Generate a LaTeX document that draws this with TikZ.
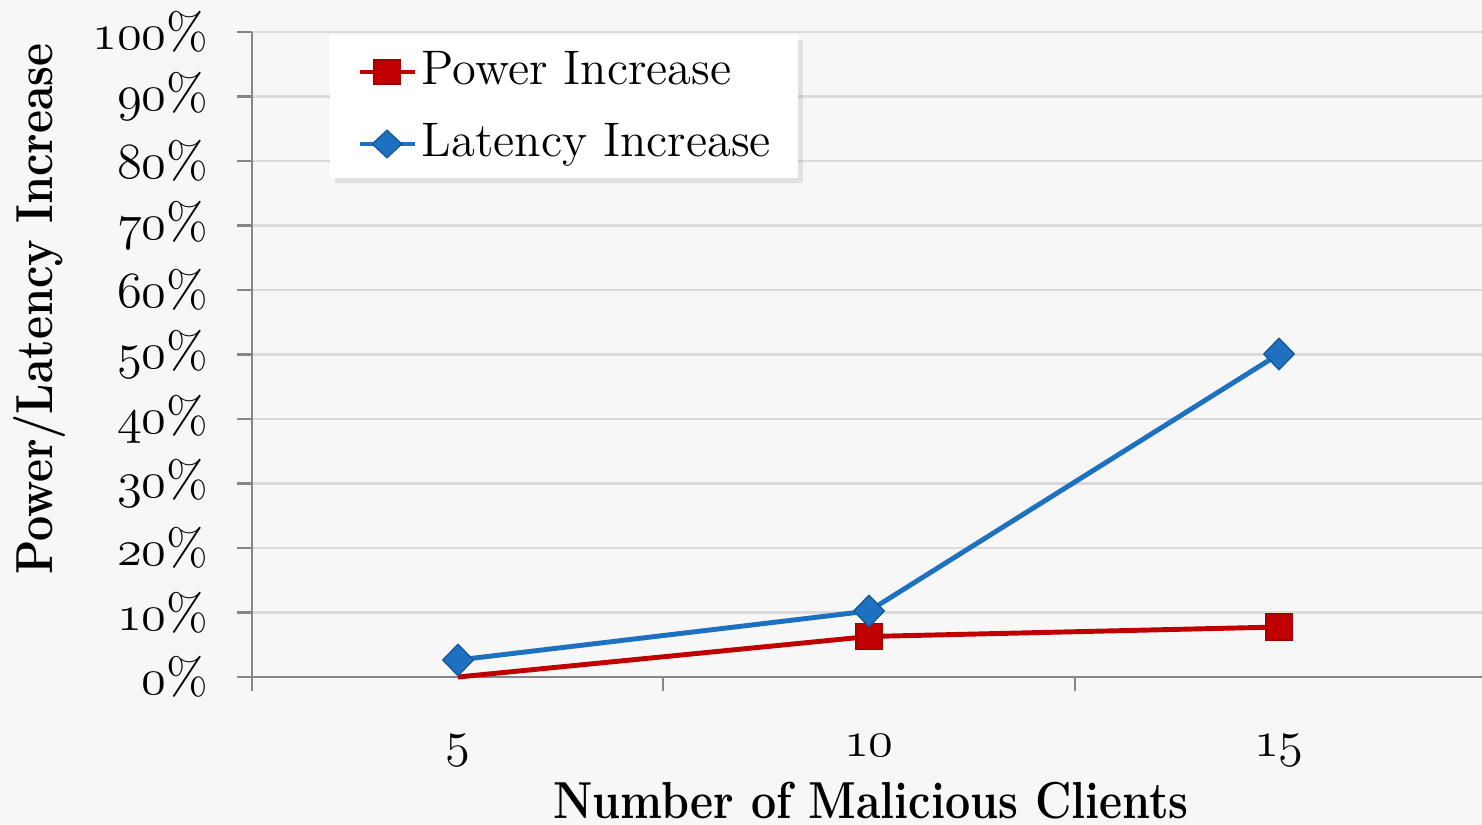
\documentclass[tikz,border=0pt]{standalone}
\usepackage{fontspec}
\usetikzlibrary{shapes.geometric,shadows}
\definecolor{pred}{RGB}{192,0,0}
\definecolor{pblue}{RGB}{30,112,192}
\definecolor{pblueedge}{RGB}{24,90,150}
\definecolor{axisgray}{RGB}{134,134,134}
\definecolor{gridgray}{RGB}{218,218,218}
\definecolor{bggray}{RGB}{247,247,247}
\newcommand\osf[1]{{\usefont{OML}{cmm}{m}{it}#1}}
\tikzset{
  ylab/.style={anchor=east, inner sep=0pt, font=\fontsize{14.5}{16}\selectfont},
  xlab/.style={anchor=base, inner sep=0pt, font=\fontsize{14.5}{16}\selectfont},
  axtitle/.style={inner sep=0pt, font=\fontsize{14.8}{17}\selectfont\bfseries},
  legtext/.style={anchor=base west, inner sep=0pt, font=\fontsize{13.8}{16}\selectfont},
  redline/.style={draw=pred, line width=1.4pt},
  blueline/.style={draw=pblue, line width=1.4pt},
  sqmark/.style={rectangle, fill=pred, draw=pred!85!black, line width=0.3pt, minimum size=0.26cm, inner sep=0pt},
  dmmark/.style={diamond, fill=pblue, draw=pblueedge, line width=0.4pt, minimum width=0.31cm, minimum height=0.32cm, inner sep=0pt},
  grid line/.style={draw=gridgray, line width=0.6pt},
  axis line/.style={draw=axisgray, line width=0.7pt},
}
\begin{document}
\begin{tikzpicture}[x=0.01cm, y=-0.01cm]
\useasboundingbox (0,0) rectangle (1482,825);
\fill[bggray] (0,0) rectangle (1482,825);
% grid
\foreach \v in {10,20,...,100} {
  \draw[grid line] (252,{677-6.45*\v}) -- (1482,{677-6.45*\v});
  \draw[axis line] (237,{677-6.45*\v}) -- (252,{677-6.45*\v});
}
% axes
\coordinate (ytop) at (252,32);
\coordinate (orig) at (252,677);
\coordinate (xend) at (1482,677);
\draw[axis line] (ytop) -- (orig);
\draw[axis line] (237,677) -- (xend);
\foreach \x in {252,663,1075} \draw[axis line] (\x,677) -- (\x,691);
% y labels
\foreach \v in {0,10,...,100} {
  \node[ylab] (y\v) at (209,{677-6.45*\v}) {\osf{\v}\%};
}
% x labels
\node[xlab] (x5) at (458,756) {\osf{5}};
\node[xlab] (x10) at (869,756) {\osf{10}};
\node[xlab] (x15) at (1279,756) {\osf{15}};
% axis titles
\node[axtitle, anchor=base] (xtitle) at (871,818) {\scalebox{0.86}[1]{Number of Malicious Clients}};
\node[axtitle, anchor=base, rotate=90] (ytitle) at (52,309) {\scalebox{0.86}[1]{Power/Latency Increase}};
% data
\coordinate (r5) at (458,677);
\coordinate (r10) at (869,636.5);
\coordinate (r15) at (1279,627);
\coordinate (b5) at (458,660);
\coordinate (b10) at (869,611);
\coordinate (b15) at (1279,354);
\draw[redline] (r5) -- (r10) -- (r15);
\node[sqmark] (mr10) at (r10) {};
\node[sqmark] (mr15) at (r15) {};
\draw[blueline] (b5) -- (b10) -- (b15);
\node[dmmark] (mb5) at (b5) {};
\node[dmmark] (mb10) at (b10) {};
\node[dmmark] (mb15) at (b15) {};
% legend
\node[draw=none, fill=white, minimum width=4.68cm, minimum height=1.43cm, inner sep=0pt,
      drop shadow={shadow xshift=1.5pt, shadow yshift=-1.5pt, opacity=0.18}] (legend) at (564,106.5) {};
\coordinate (lr1) at (360,72);
\coordinate (lr2) at (415,72);
\coordinate (lb1) at (360,144);
\coordinate (lb2) at (415,144);
\draw[redline] (lr1) -- (lr2);
\node[sqmark, minimum width=0.27cm, minimum height=0.24cm] (lmr) at (387,72) {};
\draw[blueline] (lb1) -- (lb2);
\node[dmmark, minimum width=0.3cm, minimum height=0.28cm] (lmb) at (387,144) {};
\node[legtext] (lt1) at (421,85) {Power Increase};
\node[legtext] (lt2) at (421,157) {Latency Increase};
\end{tikzpicture}
\end{document}
